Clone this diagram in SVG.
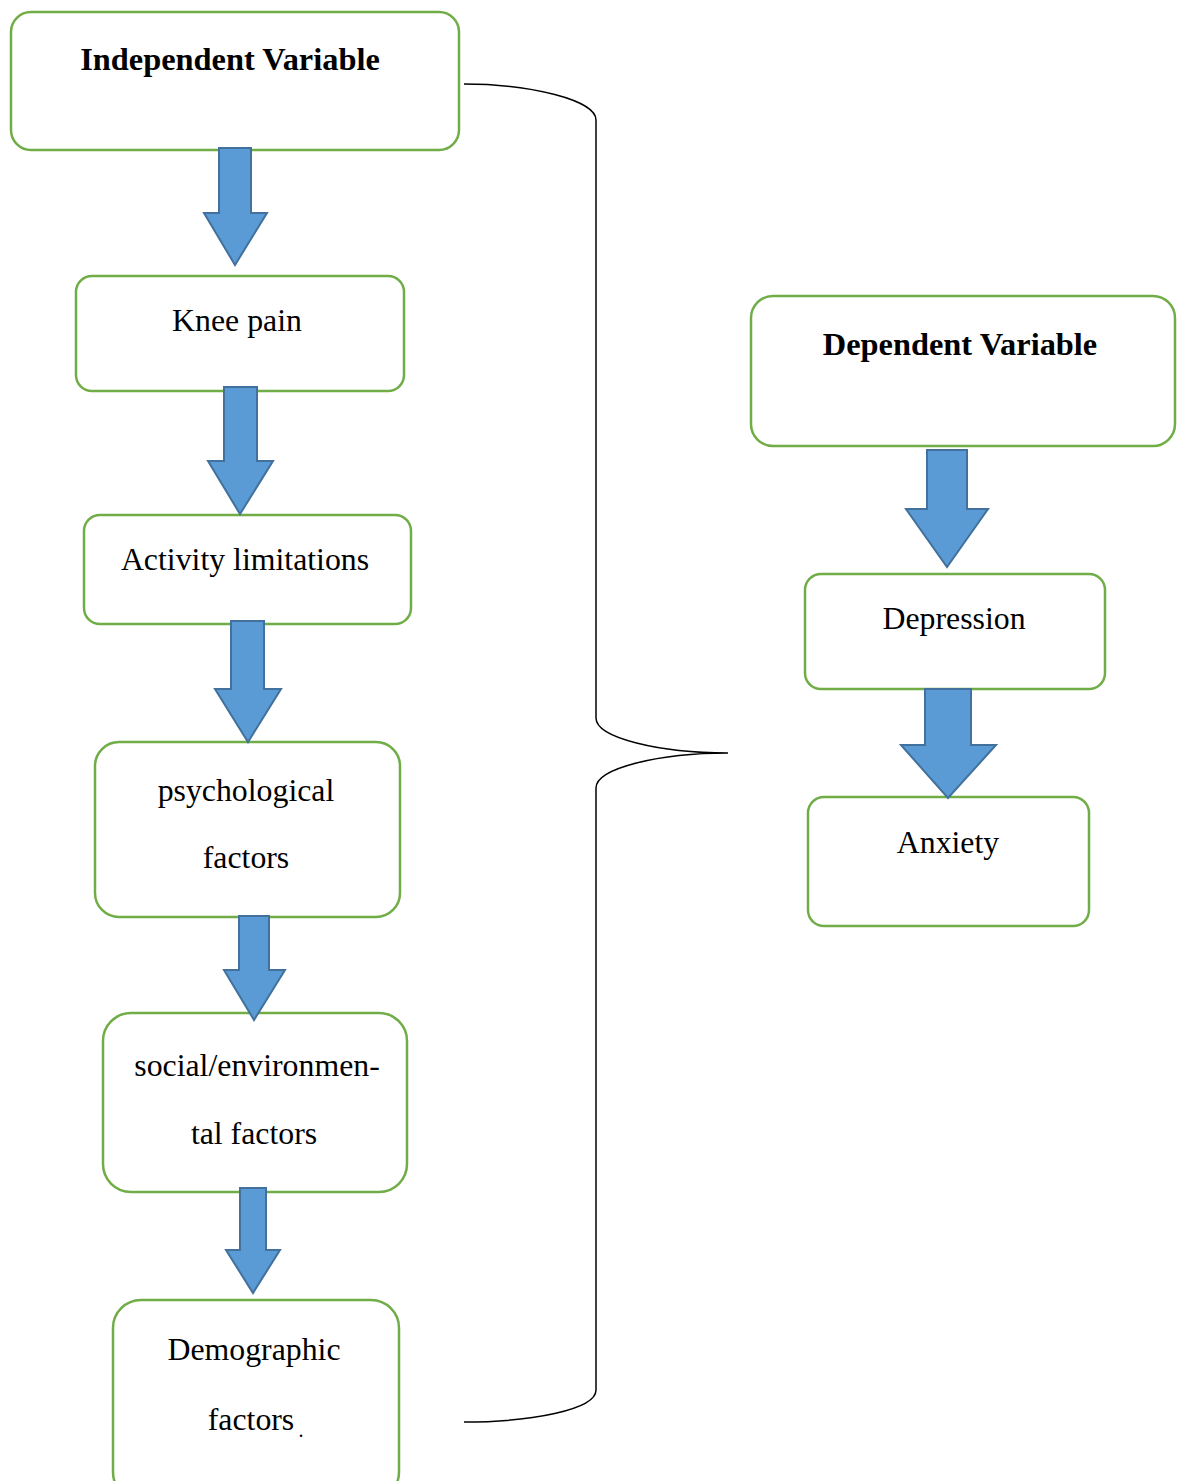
<svg xmlns="http://www.w3.org/2000/svg" width="1177" height="1481" viewBox="0 0 1177 1481">
<style>
.box{fill:#fff;stroke:#70AD47;stroke-width:2.5}
.arr{fill:#5B9BD5;stroke:#41719C;stroke-width:2;stroke-linejoin:miter}
.t{font-family:"Liberation Serif","Times New Roman",serif;font-size:31.8px;fill:#000;text-anchor:middle}
.b{font-weight:bold;font-size:32.4px}
.brace{fill:none;stroke:#000;stroke-width:1.5}
</style>
<rect width="1177" height="1481" fill="#fff"/>
<g id="n-independent"><rect class="box" x="11" y="12" width="448" height="138" rx="20"/><text class="t b" x="230" y="70">Independent Variable</text></g>
<g id="n-knee"><rect class="box" x="76" y="276" width="328" height="115" rx="16"/><text class="t" x="237" y="331">Knee pain</text></g>
<g id="n-activity"><rect class="box" x="84" y="515" width="327" height="109" rx="16"/><text class="t" x="245" y="570">Activity limitations</text></g>
<g id="n-psych"><rect class="box" x="95" y="742" width="305" height="175" rx="24"/><text class="t" x="246" y="801">psychological</text><text class="t" x="246" y="868">factors</text></g>
<g id="n-social"><rect class="box" x="103" y="1013" width="304" height="179" rx="28"/><text class="t" x="257" y="1076">social/environmen-</text><text class="t" x="254" y="1144">tal factors</text></g>
<g id="n-demo"><rect class="box" x="113" y="1300" width="286" height="200" rx="28"/><text class="t" x="254" y="1360">Demographic</text><text class="t" x="251" y="1430">factors</text><text class="t" x="301" y="1437" style="font-size:20px">.</text></g>
<g id="n-dependent"><rect class="box" x="751" y="296" width="424" height="150" rx="22"/><text class="t b" x="960" y="355">Dependent Variable</text></g>
<g id="n-depression"><rect class="box" x="805" y="574" width="300" height="115" rx="16"/><text class="t" x="954" y="629">Depression</text></g>
<g id="n-anxiety"><rect class="box" x="808" y="797" width="281" height="129" rx="16"/><text class="t" x="948" y="853">Anxiety</text></g>
<g id="connectors">
<polygon class="arr" points="219,148 251,148 251,213 267,213 235,265 204,213 219,213"/>
<polygon class="arr" points="224,387 257,387 257,461 273,461 240,514 208,461 224,461"/>
<polygon class="arr" points="231,621 264,621 264,689 281,689 248,742 215,689 231,689"/>
<polygon class="arr" points="239,916 269,916 269,970 285,970 254,1020 224,970 239,970"/>
<polygon class="arr" points="240,1188 266,1188 266,1250 280,1250 253,1293 226,1250 240,1250"/>
<polygon class="arr" points="927,450 967,450 967,509 988,509 947,567 906,509 927,509"/>
<polygon class="arr" points="925,689 971,689 971,745 996,745 948,798 901,745 925,745"/>
<path class="brace" d="M464,84 C530,84 596,100 596,120 L596,718 C596,738 660,753 728,753 C660,753 596,768 596,788 L596,1390 C596,1410 530,1422 464,1422"/>
</g>
</svg>
